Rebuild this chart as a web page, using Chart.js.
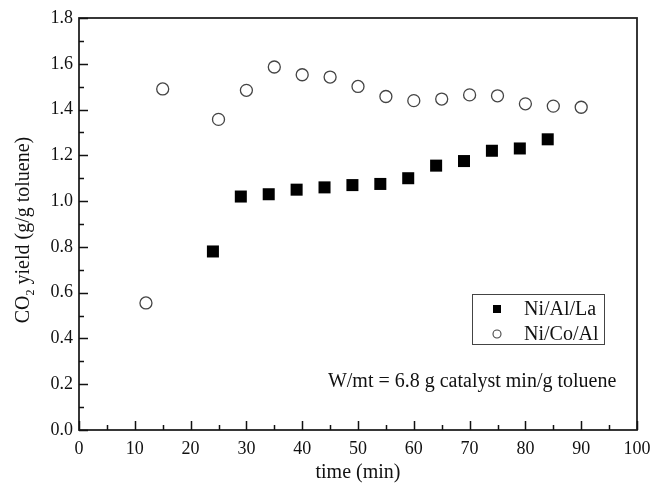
<!DOCTYPE html>
<html><head><meta charset="utf-8">
<script src="https://cdn.jsdelivr.net/npm/chart.js@4/dist/chart.umd.min.js"></script>
<style>html,body{margin:0;padding:0;background:#fff}canvas{display:block}</style>
</head><body>
<canvas id="c" width="653" height="483"></canvas>
<script>
const seriesNames = ['Ni/Al/La', 'Ni/Co/Al'];
const timeNiAlLa  = [24, 29, 34, 39, 44, 49, 54, 59, 64, 69, 74, 79, 84];
const yieldNiAlLa = [0.78, 1.02, 1.03, 1.05, 1.06, 1.07, 1.075, 1.10, 1.155, 1.175, 1.22, 1.23, 1.27];
const timeNiCoAl  = [12, 15, 25, 30, 35, 40, 45, 50, 55, 60, 65, 70, 75, 80, 85, 90];
const yieldNiCoAl = [0.555, 1.49, 1.357, 1.484, 1.586, 1.552, 1.542, 1.501, 1.457, 1.439, 1.446, 1.464, 1.46, 1.425, 1.415, 1.41];
const xTickValues = [0, 10, 20, 30, 40, 50, 60, 70, 80, 90, 100];
const yTickValues = [0, 0.2, 0.4, 0.6, 0.8, 1.0, 1.2, 1.4, 1.6, 1.8];
const xTitle = 'time (min)';
const yTitleParts = ['CO', '2', ' yield (g/g toluene)'];
const annotationText = 'W/mt = 6.8 g catalyst min/g toluene';
const annotationAt = {x: 96.3, y: 0.19};

const FONT = '"Liberation Serif", "Times New Roman", serif';

const framePlugin = {
  id: 'frame',
  afterDraw(chart) {
    const ctx = chart.ctx, a = chart.chartArea;
    const xs = chart.scales.x, ys = chart.scales.y;
    ctx.save();
    ctx.strokeStyle = '#222';
    ctx.lineWidth = 1.8;
    ctx.strokeRect(a.left, a.top, a.right - a.left, a.bottom - a.top);
    // inward ticks (major + minor)
    ctx.strokeStyle = '#111';
    ctx.lineWidth = 1.5;
    ctx.beginPath();
    for (let i = 0; i < xTickValues.length; i++) {
      const px = Math.round(xs.getPixelForValue(xTickValues[i])) + 0.5;
      ctx.moveTo(px, a.bottom); ctx.lineTo(px, a.bottom - 9);
      if (i < xTickValues.length - 1) {
        const pm = Math.round(xs.getPixelForValue((xTickValues[i] + xTickValues[i + 1]) / 2)) + 0.5;
        ctx.moveTo(pm, a.bottom); ctx.lineTo(pm, a.bottom - 5);
      }
    }
    for (let i = 0; i < yTickValues.length; i++) {
      const py = Math.round(ys.getPixelForValue(yTickValues[i])) + 0.5;
      ctx.moveTo(a.left, py); ctx.lineTo(a.left + 9, py);
      if (i < yTickValues.length - 1) {
        const pm = Math.round(ys.getPixelForValue((yTickValues[i] + yTickValues[i + 1]) / 2)) + 0.5;
        ctx.moveTo(a.left, pm); ctx.lineTo(a.left + 5, pm);
      }
    }
    ctx.stroke();

    // axis titles
    ctx.fillStyle = '#111';
    ctx.font = '20px ' + FONT;
    ctx.textAlign = 'center';
    ctx.textBaseline = 'alphabetic';
    ctx.fillText(xTitle, (a.left + a.right) / 2, 478);

    ctx.save();
    const yc = (a.top + a.bottom) / 2 + 6;
    ctx.translate(29, yc);
    ctx.rotate(-Math.PI / 2);
    ctx.font = '20px ' + FONT;
    const w0 = ctx.measureText(yTitleParts[0]).width;
    ctx.font = '12px ' + FONT;
    const w1 = ctx.measureText(yTitleParts[1]).width;
    ctx.font = '20px ' + FONT;
    const w2 = ctx.measureText(yTitleParts[2]).width;
    let sx = -(w0 + w1 + w2) / 2;
    ctx.textAlign = 'left';
    ctx.fillText(yTitleParts[0], sx, 0);
    ctx.font = '12px ' + FONT;
    ctx.fillText(yTitleParts[1], sx + w0, 5);
    ctx.font = '20px ' + FONT;
    ctx.fillText(yTitleParts[2], sx + w0 + w1, 0);
    ctx.restore();

    // annotation
    ctx.font = '20px ' + FONT;
    ctx.textAlign = 'right';
    ctx.fillText(annotationText, xs.getPixelForValue(annotationAt.x), ys.getPixelForValue(annotationAt.y));

    // legend
    const bx = a.right - 165, by = a.top + 276, bw = 132, bh = 50;
    ctx.lineWidth = 1;
    ctx.strokeStyle = '#444';
    ctx.strokeRect(bx + 0.5, by + 0.5, bw, bh);
    ctx.textAlign = 'left';
    ctx.textBaseline = 'middle';
    ctx.font = '20px ' + FONT;
    chart.data.datasets.forEach((ds, i) => {
      const cy = by + 15 + i * 25;
      const mx = bx + 25;
      if (ds.pointStyle === 'rect') {
        ctx.fillStyle = ds.backgroundColor;
        ctx.fillRect(mx - 4, cy - 4, 8, 8);
      } else {
        ctx.beginPath();
        ctx.arc(mx, cy, 4, 0, Math.PI * 2);
        ctx.fillStyle = '#fff';
        ctx.fill();
        ctx.strokeStyle = ds.borderColor;
        ctx.lineWidth = 1.1;
        ctx.stroke();
      }
      ctx.fillStyle = '#111';
      ctx.fillText(ds.label, bx + 52, cy + 1);
    });
    ctx.restore();
  }
};

new Chart(document.getElementById('c'), {
  type: 'scatter',
  data: {
    datasets: [
      {
        label: seriesNames[0],
        data: timeNiAlLa.map((t, i) => ({x: t, y: yieldNiAlLa[i]})),
        pointStyle: 'rect',
        pointRadius: 8.5,
        pointHoverRadius: 8.5,
        backgroundColor: '#000',
        borderColor: '#000',
        borderWidth: 0
      },
      {
        label: seriesNames[1],
        data: timeNiCoAl.map((t, i) => ({x: t, y: yieldNiCoAl[i]})),
        pointStyle: 'circle',
        pointRadius: 6,
        pointHoverRadius: 6,
        backgroundColor: '#fff',
        borderColor: '#444',
        borderWidth: 1.3
      }
    ]
  },
  options: {
    responsive: false,
    animation: false,
    devicePixelRatio: 1,
    layout: {padding: {top: 18, right: 16, left: 0, bottom: 0}},
    plugins: {legend: {display: false}, tooltip: {enabled: false}},
    scales: {
      x: {
        type: 'linear', min: 0, max: 100,
        grid: {display: false, drawTicks: false},
        border: {display: false},
        afterBuildTicks: s => { s.ticks = xTickValues.map(v => ({value: v})); },
        afterFit: s => { s.height = 53; s.paddingLeft = 0; s.paddingRight = 0; },
        ticks: {color: '#111', font: {family: FONT, size: 18}, padding: 8, maxRotation: 0}
      },
      y: {
        type: 'linear', min: 0, max: 1.8,
        grid: {display: false, drawTicks: false},
        border: {display: false},
        afterBuildTicks: s => { s.ticks = yTickValues.map(v => ({value: v})); },
        afterFit: s => { s.width = 79; s.paddingTop = 0; s.paddingBottom = 0; },
        ticks: {color: '#111', font: {family: FONT, size: 18}, padding: 6, callback: v => Number(v).toFixed(1)}
      }
    },
    clip: false
  },
  plugins: [framePlugin]
});
</script>
</body></html>
